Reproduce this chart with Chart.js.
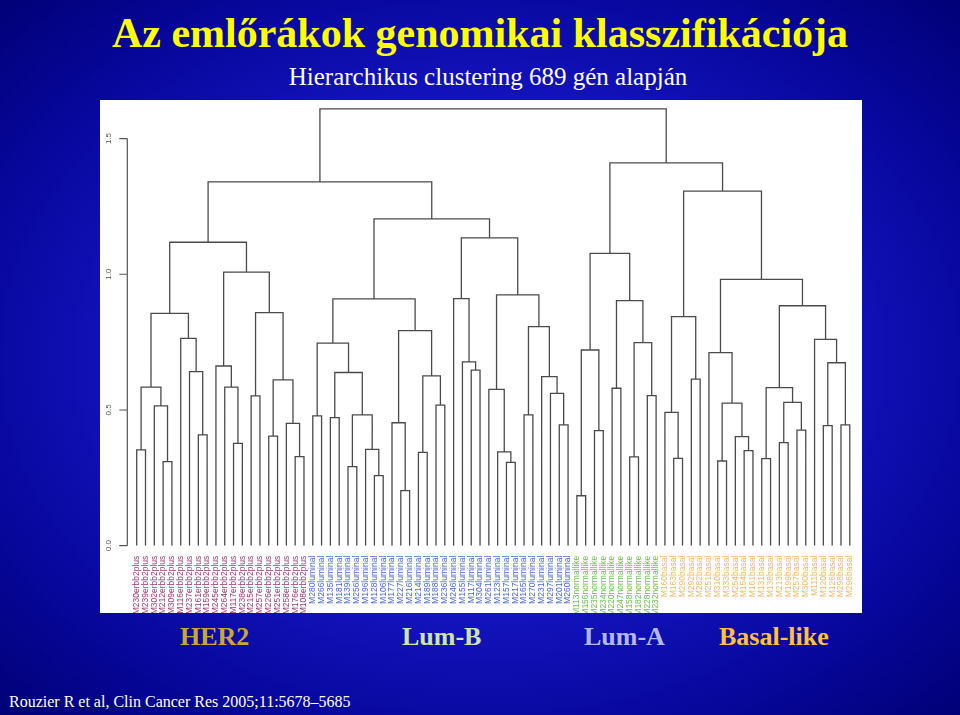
<!DOCTYPE html>
<html><head><meta charset="utf-8">
<script src="https://cdn.jsdelivr.net/npm/chart.js@4"></script>
<style>
html,body{margin:0;padding:0;}
body{width:960px;height:715px;overflow:hidden;position:relative;
background:radial-gradient(ellipse 72% 72% at 50% 50%, #2a2aea 0%, #1818ca 40%, #07079c 75%, #000074 100%);
font-family:"Liberation Serif","Times New Roman",serif;}
.t{position:absolute;white-space:nowrap;line-height:1;}
#title{left:0;width:960px;text-align:center;top:12px;color:#ffff00;font-weight:bold;font-size:42px;}
#sub{left:0;width:976px;text-align:center;top:64px;color:#ffffff;font-size:25px;}
#panel{position:absolute;left:100px;top:100px;width:762px;height:513px;background:#fff;}
.g{top:624px;font-weight:bold;font-size:26px;}
#cite{left:9px;top:694px;color:#fff;font-size:16px;}
</style></head>
<body>
<div class="t" id="title">Az emlőrákok genomikai klasszifikációja</div>
<div class="t" id="sub">Hierarchikus clustering 689 gén alapján</div>
<div id="panel"><canvas id="c" width="762" height="513"></canvas></div>
<div class="t g" style="left:180px;color:#c8a832;">HER2</div>
<div class="t g" style="left:402px;color:#cde6a6;">Lum-B</div>
<div class="t g" style="left:584px;color:#b2b8f6;">Lum-A</div>
<div class="t g" style="left:719px;color:#ffc23a;">Basal-like</div>
<div class="t" id="cite">Rouzier R et al, Clin Cancer Res 2005;11:5678–5685</div>
<script>
// ---- leaf labels (dendrogram order) ----
const her2Labels = ["M230erbb2plus","M239erbb2plus","M302erbb2plus","M212erbb2plus","M309erbb2plus","M116erbb2plus","M237erbb2plus","M161erbb2plus","M159erbb2plus","M245erbb2plus","M264erbb2plus","M117erbb2plus","M238erbb2plus","M215erbb2plus","M257erbb2plus","M226erbb2plus","M251erbb2plus","M258erbb2plus","M176erbb2plus","M108erbb2plus"];
const luminalLabels = ["M280luminal","M266luminal","M135luminal","M181luminal","M139luminal","M256luminal","M196luminal","M128luminal","M106luminal","M177luminal","M227luminal","M216luminal","M214luminal","M189luminal","M188luminal","M236luminal","M246luminal","M155luminal","M117luminal","M304luminal","M261luminal","M123luminal","M157luminal","M217luminal","M165luminal","M270luminal","M231luminal","M297luminal","M201luminal","M260luminal"];
const normalLabels = ["M113normallike","M156normallike","M235normallike","M234normallike","M220normallike","M247normallike","M158normallike","M182normallike","M228normallike","M232normallike"];
const basalLabels = ["M160basal","M163basal","M290basal","M292basal","M282basal","M251basal","M310basal","M333basal","M254basal","M154basal","M161basal","M131basal","M138basal","M213basal","M199basal","M257basal","M300basal","M111basal","M120basal","M126basal","M298basal","M296basal"];
const groupColors = ["#9a3c78","#4a68d0","#6cc04c","#f0b868"];

// ---- merge table (R hclust style: negative = leaf number, positive = earlier merge) ----
const mergeLeft  = [-1,-4,-3,1,-8,-7,-6,4,-12,-11,-10,-14,-16,-19,-18,13,12,11,8,
  -21,-23,-25,-28,-27,22,21,20,-31,-30,-33,-35,30,29,27,-39,-38,-37,-43,-42,-41,-49,-48,-47,-45,44,40,37,34,19,
  -51,-53,50,-55,-57,-59,54,53,52,
  -62,-61,-64,60,-67,-70,-69,63,-66,-72,-74,-76,69,68,-79,-81,73,-78,72,67,62,58,49];
const mergeRight = [-2,-5,2,3,-9,5,6,7,-13,9,10,-15,-17,-20,14,15,16,17,18,
  -22,-24,-26,-29,23,24,25,26,-32,28,-34,-36,31,32,33,-40,35,36,-44,38,39,-50,41,42,-46,43,45,46,47,48,
  -52,-54,51,-56,-58,-60,55,56,57,
  -63,59,-65,61,-68,-71,64,65,66,-73,-75,-77,70,71,-80,-82,74,75,76,77,78,79,80];
const mergeHeight = [0.353,0.31,0.515,0.584,0.408,0.641,0.764,0.856,0.377,0.584,0.662,0.552,0.404,0.328,0.451,0.611,0.859,1.008,1.118,
  0.478,0.472,0.291,0.258,0.355,0.482,0.638,0.746,0.203,0.453,0.344,0.518,0.626,0.792,0.909,0.647,0.677,0.91,0.307,0.346,0.576,0.445,0.561,0.623,0.482,0.807,0.924,1.134,1.204,1.34,
  0.184,0.424,0.721,0.58,0.327,0.553,0.748,0.903,1.077,
  0.322,0.491,0.614,0.844,0.312,0.35,0.402,0.525,0.711,0.321,0.38,0.426,0.528,0.582,0.442,0.445,0.674,0.76,0.884,0.981,1.306,1.41,1.609];
const yTicks = [0, 0.5, 1.0, 1.5];

// ---- build ----
const leafLabels = [...her2Labels, ...luminalLabels, ...normalLabels, ...basalLabels];
const leafGroup = [...her2Labels.map(()=>0), ...luminalLabels.map(()=>1), ...normalLabels.map(()=>2), ...basalLabels.map(()=>3)];
const nodeX = [], nodeH = [];
function pos(ref){ return ref < 0 ? {x: -ref - 1, h: 0} : {x: nodeX[ref-1], h: nodeH[ref-1]}; }
const segs = [];
for (let k = 0; k < mergeHeight.length; k++) {
  const a = pos(mergeLeft[k]), b = pos(mergeRight[k]), h = mergeHeight[k];
  nodeX.push((a.x + b.x) / 2); nodeH.push(h);
  segs.push({x:a.x,y:a.h},{x:a.x,y:h},{x:b.x,y:h},{x:b.x,y:b.h},{x:b.x,y:null});
}

const rAxis = {
  id:'rAxis',
  afterDraw(chart){
    const ys = chart.scales.y, ctx = chart.ctx;
    const ax = chart.chartArea.left - 5;
    ctx.save();
    ctx.strokeStyle = '#555'; ctx.lineWidth = 1.2;
    ctx.beginPath();
    ctx.moveTo(ax, ys.getPixelForValue(yTicks[0]));
    ctx.lineTo(ax, ys.getPixelForValue(yTicks[yTicks.length-1]));
    yTicks.forEach(v => { const p = ys.getPixelForValue(v); ctx.moveTo(ax, p); ctx.lineTo(ax - 8, p); });
    ctx.stroke();
    ctx.fillStyle = '#555'; ctx.font = '8px "Liberation Sans", Arial, sans-serif';
    ctx.textAlign = 'center'; ctx.textBaseline = 'middle';
    yTicks.forEach(v => {
      const p = ys.getPixelForValue(v);
      ctx.save(); ctx.translate(ax - 19, p); ctx.rotate(-Math.PI/2);
      ctx.fillText(v.toFixed(1), 0, 0); ctx.restore();
    });
    ctx.restore();
  }
};

new Chart(document.getElementById('c'), {
  type:'line',
  data:{ datasets:[{ data: segs, borderColor:'#4a4a4a', borderWidth:1.3, pointRadius:0, tension:0, spanGaps:false, fill:false }]},
  options:{
    responsive:false, animation:false, devicePixelRatio:1,
    layout:{ padding:{ left:32.3, right:2.6, top:0, bottom:0 } },
    plugins:{ legend:{display:false}, tooltip:{enabled:false}, title:{display:false} },
    scales:{
      x:{ type:'linear', min:-0.5, max:leafLabels.length - 0.5,
        afterBuildTicks: s => { s.ticks = leafLabels.map((_, i) => ({value:i})); },
        afterFit: s => { s.height = 67.3; },
        grid:{display:false}, border:{display:false},
        ticks:{ autoSkip:false, minRotation:90, maxRotation:90, padding:2,
          font:{size:8.5, family:'"Liberation Sans", Arial, sans-serif'},
          color: c => groupColors[leafGroup[c.index]] || '#444',
          callback: (v) => leafLabels[v] }
      },
      y:{ type:'linear', min:0, max:1.642, display:false }
    }
  },
  plugins:[rAxis]
});
</script>
</body></html>
